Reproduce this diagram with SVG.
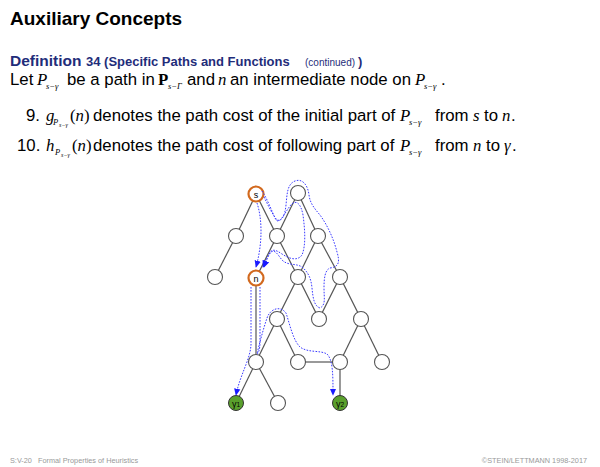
<svg xmlns="http://www.w3.org/2000/svg" width="600" height="467" viewBox="0 0 600 467">
<defs>
<marker id="ah" viewBox="0 0 10 10" refX="9" refY="5" markerWidth="7" markerHeight="7" orient="auto" markerUnits="userSpaceOnUse">
<path d="M0,0.5 L10,5 L0,9.5 Z" fill="#1a1aff"/>
</marker>
<style>
.sans{font-family:"Liberation Sans",Arial,sans-serif;fill:#000}
.body{font-size:16.8px}
.m{font-family:"Liberation Serif","Times New Roman",serif;font-style:italic}
.rm{font-family:"Liberation Serif","Times New Roman",serif}
.def{font-family:"Liberation Sans",Arial,sans-serif;fill:#1f2d7a}
.foot{font-family:"Liberation Sans",Arial,sans-serif;font-size:7.3px;fill:#999}
.edge{stroke:#555;stroke-width:1.2;fill:none}
.gedge{stroke:#999;stroke-width:2;fill:none}
.node{fill:#fff;stroke:#555;stroke-width:1.1}
.onode{fill:#fff;stroke:#d2691e;stroke-width:2.2}
.gnode{fill:#5aa02c;stroke:#333;stroke-width:1}
.path{stroke:#3a3aff;stroke-width:1;fill:none;stroke-dasharray:1.6 1.4;marker-end:url(#ah)}
.lbl{font-family:"Liberation Sans",Arial,sans-serif;font-size:9px;text-anchor:middle}
</style>
</defs>
<rect width="600" height="467" fill="#fff"/>

<text x="10" y="25" class="sans" font-size="19" font-weight="bold">Auxiliary Concepts</text>

<text x="10" y="66" class="def" font-size="15.5" font-weight="bold">Definition</text>
<text x="86" y="66" class="def" font-size="13" font-weight="bold">34 (Specific Paths and Functions</text>
<text x="305" y="66" class="def" font-size="10">(continued)</text>
<text x="358" y="66" class="def" font-size="13" font-weight="bold">)</text>

<text x="10" y="85" class="sans body">Let</text>
<text x="37" y="85" class="m" font-size="16.8">P</text>
<text x="46" y="88.5" class="m" font-size="8.5">s−γ</text>
<text x="67" y="85" class="sans body">be a path in</text>
<text x="158" y="85" class="rm" font-size="16.8" font-weight="bold">P</text>
<text x="168" y="88.5" class="m" font-size="8.5">s−Γ</text>
<text x="187" y="85" class="sans body">and</text>
<text x="218" y="85" class="m" font-size="16.8">n</text>
<text x="230" y="85" class="sans body">an intermediate node on</text>
<text x="415" y="85" class="m" font-size="16.8">P</text>
<text x="424" y="88.5" class="m" font-size="8.5">s−γ</text>
<text x="441" y="85" class="sans body">.</text>

<text x="26" y="121" class="sans body">9.</text>
<text x="46" y="121" class="m" font-size="16.8">g</text>
<text x="53" y="124.5" class="m" font-size="8.5">P</text>
<text x="59" y="126.5" class="m" font-size="6">s−γ</text>
<text x="70" y="121" class="rm" font-size="16.8">(<tspan font-style="italic">n</tspan>)</text>
<text x="93" y="121" class="sans body">denotes the path cost of the initial part of</text>
<text x="400" y="121" class="m" font-size="16.8">P</text>
<text x="409" y="124.5" class="m" font-size="8.5">s−γ</text>
<text x="435" y="121" class="sans body">from</text>
<text x="473" y="121" class="m" font-size="16.8">s</text>
<text x="484" y="121" class="sans body">to</text>
<text x="502" y="121" class="m" font-size="16.8">n</text>
<text x="511" y="121" class="sans body">.</text>

<text x="17" y="151" class="sans body">10.</text>
<text x="46" y="151" class="m" font-size="16.8">h</text>
<text x="55" y="154.5" class="m" font-size="8.5">P</text>
<text x="61" y="156.5" class="m" font-size="6">s−γ</text>
<text x="72" y="151" class="rm" font-size="16.8">(<tspan font-style="italic">n</tspan>)</text>
<text x="93" y="151" class="sans body">denotes the path cost of following part of</text>
<text x="400" y="151" class="m" font-size="16.8">P</text>
<text x="409" y="154.5" class="m" font-size="8.5">s−γ</text>
<text x="435" y="151" class="sans body">from</text>
<text x="473" y="151" class="m" font-size="16.8">n</text>
<text x="486" y="151" class="sans body">to</text>
<text x="504" y="151" class="m" font-size="16.8">γ</text>
<text x="512" y="151" class="sans body">.</text>

<g id="edges">
<line class="edge" x1="256" y1="194" x2="236" y2="236"/>
<line class="edge" x1="256" y1="194" x2="277" y2="236"/>
<line class="edge" x1="298" y1="193" x2="277" y2="236"/>
<line class="edge" x1="298" y1="193" x2="318" y2="236"/>
<line class="edge" x1="236" y1="236" x2="215" y2="277"/>
<line class="edge" x1="277" y1="236" x2="256" y2="278"/>
<line class="edge" x1="277" y1="236" x2="298" y2="277"/>
<line class="edge" x1="318" y1="236" x2="298" y2="277"/>
<line class="edge" x1="318" y1="236" x2="340" y2="277"/>
<line class="edge" x1="298" y1="277" x2="277" y2="319"/>
<line class="edge" x1="298" y1="277" x2="319" y2="319"/>
<line class="edge" x1="340" y1="277" x2="319" y2="319"/>
<line class="edge" x1="340" y1="277" x2="361" y2="319"/>
<line class="edge" x1="277" y1="319" x2="256" y2="362"/>
<line class="edge" x1="277" y1="319" x2="298" y2="362"/>
<line class="edge" x1="361" y1="319" x2="340" y2="362"/>
<line class="edge" x1="361" y1="319" x2="382" y2="362"/>
<line class="edge" x1="256" y1="362" x2="236" y2="403"/>
<line class="edge" x1="256" y1="362" x2="278" y2="403"/>
<line class="gedge" x1="256" y1="278" x2="256" y2="362"/>
<line class="gedge" x1="298" y1="362" x2="340" y2="362"/>
<line class="gedge" x1="340" y1="362" x2="340" y2="403"/>
</g>

<g id="n-s"><circle class="onode" cx="256" cy="194" r="7.5"/><text class="lbl" x="256" y="197.5">s</text></g>
<g id="n-t0"><circle class="node" cx="298" cy="193" r="7.5"/></g>
<g id="n-a1"><circle class="node" cx="236" cy="236" r="7.5"/></g>
<g id="n-a2"><circle class="node" cx="277" cy="236" r="7.5"/></g>
<g id="n-a3"><circle class="node" cx="318" cy="236" r="7.5"/></g>
<g id="n-b1"><circle class="node" cx="215" cy="277" r="7.5"/></g>
<g id="n-n"><circle class="onode" cx="256" cy="278" r="7.5"/><text class="lbl" x="256" y="281.5">n</text></g>
<g id="n-b3"><circle class="node" cx="298" cy="277" r="7.5"/></g>
<g id="n-b4"><circle class="node" cx="340" cy="277" r="7.5"/></g>
<g id="n-c1"><circle class="node" cx="277" cy="319" r="7.5"/></g>
<g id="n-c2"><circle class="node" cx="319" cy="319" r="7.5"/></g>
<g id="n-c3"><circle class="node" cx="361" cy="319" r="7.5"/></g>
<g id="n-d1"><circle class="node" cx="256" cy="362" r="7.5"/></g>
<g id="n-d2"><circle class="node" cx="298" cy="362" r="7.5"/></g>
<g id="n-d3"><circle class="node" cx="340" cy="362" r="7.5"/></g>
<g id="n-d4"><circle class="node" cx="382" cy="362" r="7.5"/></g>
<g id="n-g1"><circle class="gnode" cx="236" cy="403" r="7.5"/><text class="lbl" x="236" y="406.5" font-size="8">γ<tspan font-size="6.5">1</tspan></text></g>
<g id="n-e2"><circle class="node" cx="278" cy="403" r="7.5"/></g>
<g id="n-g2"><circle class="gnode" cx="340" cy="403" r="7.5"/><text class="lbl" x="340" y="406.5" font-size="8">γ<tspan font-size="6.5">2</tspan></text></g>

<g id="paths">
<path class="path" d="M257,203 C262,218 263,242 256,267"/>
<path class="path" d="M262,191 C268,200 272,212 276,220 C280,224 284,214 290,206 C296,198 301,204 303,215 C305,230 306,245 302,255 C297,262 288,258 282,254 C276,250 272,248 269,254 L264,267"/>
<path class="path" d="M264,197 C268,205 272,214 277,220 C282,222 285,215 286,205 C287,195 287,184 295,181 C303,178 308,186 309,195 C310,203 314,208 320,215 C328,226 334,240 337,252 C340,262 339,267 330,268 C325,270 324,278 324,288 C324,298 326,305 320,308 C314,306 313,298 312,288 C311,278 308,272 302,267 C296,263 288,266 282,260 C278,255 275,249 271,252 C268,256 266,260 263,267"/>
<path class="path" d="M251,287 L251,345 C250,360 240,375 236,395"/>
<path class="path" d="M260,287 L260,342 C260,350 258,354 257,354 C259,345 263,330 267,318 C270,309 280,305 286,313 C290,325 293,340 300,347 C308,353 320,350 327,354 C333,360 333,375 333,395"/>
</g>

<text x="10" y="463" class="foot">S:V-20</text>
<text x="38" y="463" class="foot">Formal Properties of Heuristics</text>
<text x="587" y="463" class="foot" text-anchor="end">©STEIN/LETTMANN 1998-2017</text>
</svg>
